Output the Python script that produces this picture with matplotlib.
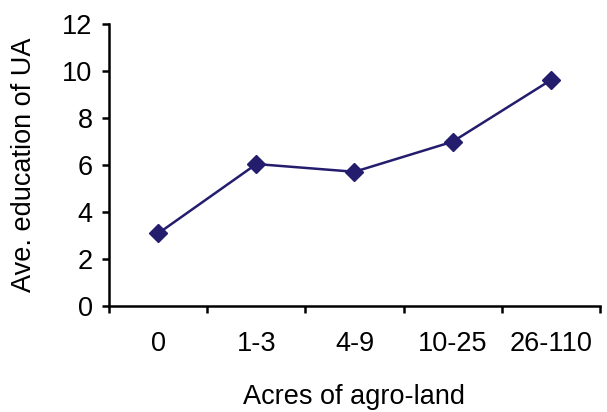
import matplotlib
matplotlib.use("Agg")
import matplotlib.pyplot as plt
import numpy as np

categories = ["0", "1-3", "4-9", "10-25", "26-110"]
values = [3.1, 6.05, 5.72, 7.0, 9.62]
yticks = [0, 2, 4, 6, 8, 10, 12]

plt.rcParams['font.family'] = ['Liberation Sans', 'DejaVu Sans']
color = '#241d6e'

fig = plt.figure(figsize=(6.07, 4.12), dpi=100)
ax = fig.add_axes([0.18, 0.257, 0.808, 0.684])

x = np.arange(len(categories))
ax.plot(x, values, color=color, lw=1.8, marker='D', ms=9,
        markerfacecolor=color, markeredgecolor=color)

ax.set_xlim(-0.5, len(categories) - 0.5)
ax.set_ylim(0, 12)
ax.set_yticks(yticks)
ax.set_yticklabels([str(v) for v in yticks])

# boundary ticks (major) without labels, category labels at centers (minor)
ax.set_xticks(np.arange(len(categories) + 1) - 0.5)
ax.set_xticklabels([])
ax.set_xticks(x, minor=True)
ax.set_xticklabels(categories, minor=True)

ax.tick_params(axis='x', which='major', direction='out', length=5, width=1.8, color='black')
ax.tick_params(axis='x', which='minor', length=0, pad=18, labelsize=19.5)
ax.tick_params(axis='y', direction='out', length=5, width=1.8, pad=7, labelsize=19.5)

for s in ['top', 'right']:
    ax.spines[s].set_visible(False)
for s in ['left', 'bottom']:
    ax.spines[s].set_linewidth(1.8)

ax.set_xlabel("Acres of agro-land", fontsize=19.5, labelpad=19)
ax.set_ylabel("Ave. education of UA", fontsize=19.5, labelpad=18)

fig.savefig("out.png", dpi=100)
